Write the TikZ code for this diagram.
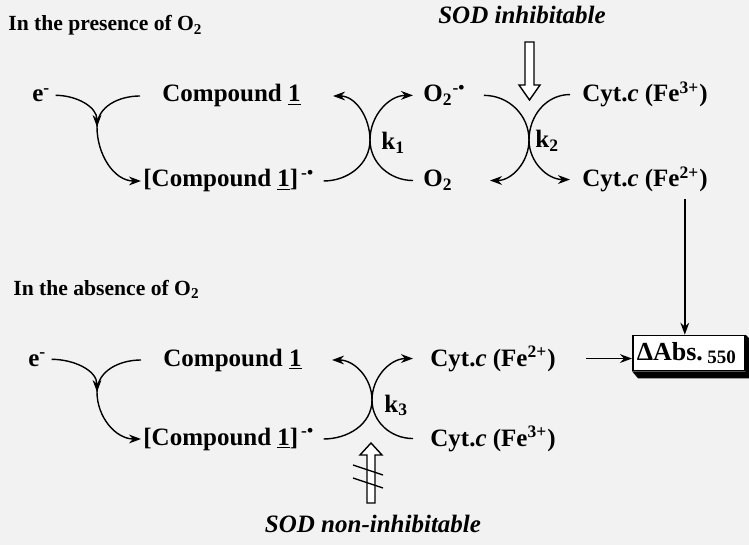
\documentclass[tikz,border=0pt]{standalone}
\usepackage{fontspec}
\setmainfont{Liberation Serif}
\usetikzlibrary{arrows.meta,calc}

\begin{document}
\begin{tikzpicture}[x=0.5pt, y=0.5pt,
    txt/.style={font=\fontsize{12.5}{15}\selectfont\bfseries, inner sep=0pt, anchor=base west},
    cond/.style={font=\fontsize{10.8}{13}\selectfont\bfseries, inner sep=0pt, anchor=base west},
    sod/.style={font=\fontsize{12.5}{15}\selectfont\bfseries\itshape, inner sep=0pt, anchor=base},
    rxn/.style={line width=0.7pt, -{Stealth[length=6pt, width=4.4pt]}},
    arc/.style={line width=0.7pt},
    hollow/.style={draw, line width=0.7pt, fill=white},
]
\fill[black!5] (0,0) rectangle (749,-545);
\useasboundingbox (0,0) rectangle (749,-545);

% in the presence of O2
\node[cond] (condA) at (8,-31) {In the presence of O\textsubscript{2}};
\node[sod] (sodA) at (522,-24) {SOD inhibitable};
\draw[hollow] (525,-42) -- (534,-42) -- (534,-85) -- (540,-85) -- (529.5,-100)
    -- (519,-85) -- (525,-85) -- cycle;

\node[txt] (eA) at (32,-102) {e\textsuperscript{-}};
\node[txt] (compA) at (162,-102) {Compound \underline{1}};
\node[txt] (compAr) at (143,-187) {[Compound \underline{1}]\textsuperscript{\,-•}};
\node[txt] (supA) at (423,-102) {O\textsubscript{2}\textsuperscript{-•}};
\node[txt] (oxyA) at (423,-187) {O\textsubscript{2}};
\node[txt] (cyt3A) at (582,-102) {Cyt.\textit{c} (Fe\textsuperscript{3+})};
\node[txt] (cyt2A) at (582,-187) {Cyt.\textit{c} (Fe\textsuperscript{2+})};
\node[txt] (k1) at (381,-150) {k\textsubscript{1}};
\node[txt] (k2) at (535,-148) {k\textsubscript{2}};
\coordinate (m1) at (97,-127);
\coordinate (x1) at (370,-140);
\coordinate (x2) at (529,-140);

\draw[rxn] ($(eA.east)+(5,0)$) to[out=0,in=90] (m1);
\draw[arc] ($(compA.west)+(-22,0)$) to[out=180,in=90] (m1);
\draw[rxn] (m1) to[out=-90,in=180] ($(compAr.west)+(-2,0)$);
% k1
\draw[rxn] ($(compAr.east)+(9,0)$) to[out=0,in=-90] (x1) to[out=90,in=0] ($(compA.east)+(32,0)$);
\draw[rxn] ($(oxyA.west)+(-10,0)$) to[out=180,in=-90] (x1) to[out=90,in=180] ($(supA.west)+(-10,0)$);
% k2
\draw[rxn] ($(supA.east)+(18,0)$) to[out=0,in=90] (x2) to[out=-90,in=0] ($(oxyA.east)+(37,0)$);
\draw[rxn] ($(cyt3A.west)+(-12,0)$) to[out=180,in=90] (x2) to[out=-90,in=180] ($(cyt2A.west)+(-12,0)$);

% in the absence of O2
\node[cond] (condB) at (13,-295) {In the absence of O\textsubscript{2}};
\node[sod] (sodB) at (373,-532) {SOD non-inhibitable};
\draw[hollow] (367,-503) -- (375,-503) -- (375,-455) -- (382,-455) -- (371,-443)
    -- (360,-455) -- (367,-455) -- cycle;
\draw[arc] (353,-465) -- (383,-475);
\draw[arc] (353,-478) -- (383,-488);

\node[txt] (eB) at (28,-366) {e\textsuperscript{-}};
\node[txt] (compB) at (163,-366) {Compound \underline{1}};
\node[txt] (compBr) at (143,-445) {[Compound \underline{1}]\textsuperscript{\,-•}};
\node[txt] (cyt2B) at (430,-366) {Cyt.\textit{c} (Fe\textsuperscript{2+})};
\node[txt] (cyt3B) at (430,-446) {Cyt.\textit{c} (Fe\textsuperscript{3+})};
\node[txt] (k3) at (384,-412) {k\textsubscript{3}};
\coordinate (m2) at (97,-392);
\coordinate (x3) at (372,-400);

\draw[rxn] ($(eB.east)+(5,0)$) to[out=0,in=90] (m2);
\draw[arc] ($(compB.west)+(-22,0)$) to[out=180,in=90] (m2);
\draw[rxn] (m2) to[out=-90,in=180] ($(compBr.west)+(-2,0)$);
% k3
\draw[rxn] ($(compBr.east)+(9,0)$) to[out=0,in=-90] (x3) to[out=90,in=0] ($(compB.east)+(30,0)$);
\draw[rxn] ($(cyt3B.west)+(-17,0)$) to[out=180,in=-90] (x3) to[out=90,in=180] ($(cyt2B.west)+(-17,0)$);

% read-out
\node[draw, line width=0.8pt, fill=white, anchor=west, inner sep=2pt, text width=52pt,
    minimum height=17.5pt, font=\fontsize{13}{15}\selectfont\bfseries] (box) at (632,-353)
    {ΔAbs.\,{\fontsize{9.5}{10}\selectfont\raisebox{-0.25ex}{550}}};
\fill (box.south west) -- ++(6,-7) -- ($(box.south east)+(4,-7)$) -- ($(box.north east)+(4,-4)$)
    -- (box.north east) -- (box.south east) -- cycle;
\draw[rxn] ($(cyt2A.south -| box.north)+(-4,-6)$) -- ($(box.north)+(-4,0)$);
\draw[rxn] ($(cyt2B.east)+(30,0)$) -- (cyt2B.east -| box.west);
\end{tikzpicture}
\end{document}
